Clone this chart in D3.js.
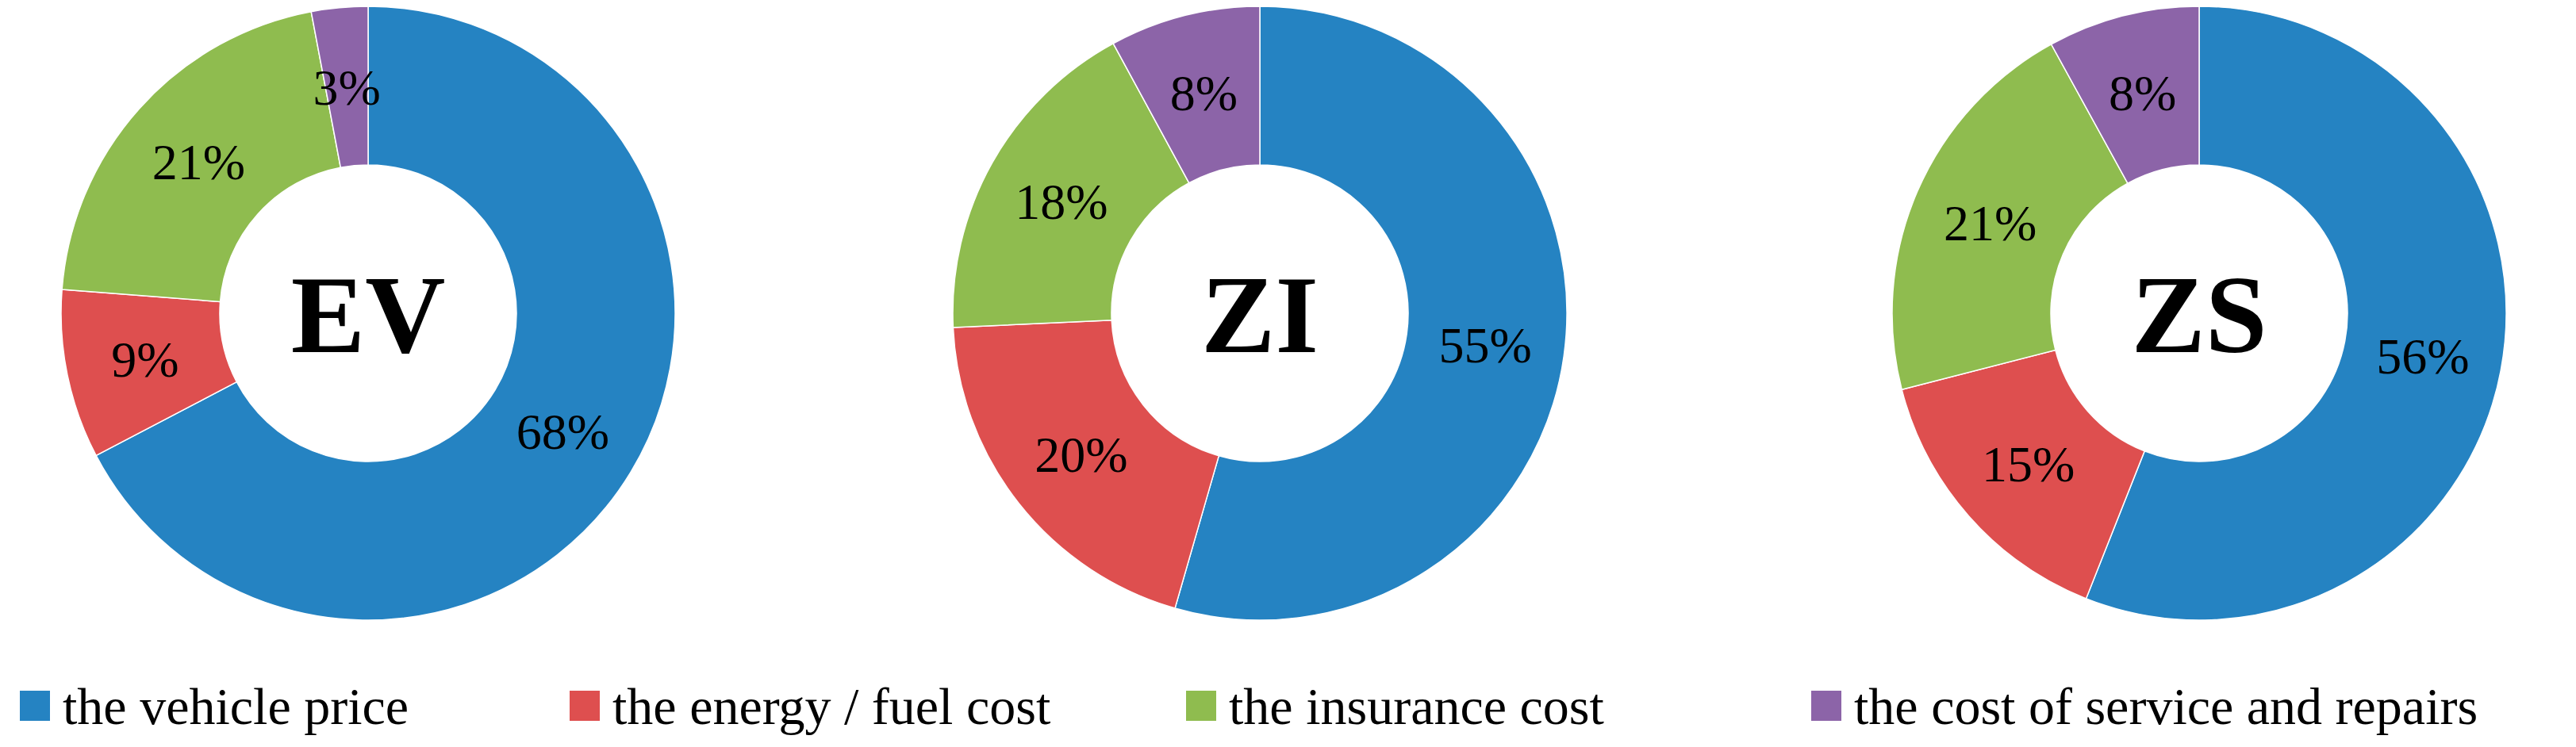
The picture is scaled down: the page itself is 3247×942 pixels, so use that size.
<!DOCTYPE html>
<html><head><meta charset="utf-8">
<script src="https://cdn.jsdelivr.net/npm/d3@7"></script>
<style>body{margin:0;background:#fff}</style>
</head><body><div id="chart"></div>
<script>
const charts = ["EV", "ZI", "ZS"];
const categories = ["the vehicle price", "the energy / fuel cost", "the insurance cost", "the cost of service and repairs"];
const evValues = [68, 9, 21, 3];
const ziValues = [55, 20, 18, 8];
const zsValues = [56, 15, 21, 8];
const allValues = [evValues, ziValues, zsValues];
const colors = ["#2583c2", "#de4f4f", "#8fbc4f", "#8c64a8"];

const W = 3247, H = 942;
const svg = d3.select('#chart').append('svg').attr('width', W).attr('height', H);
const font = "'Liberation Serif', 'DejaVu Serif', serif";

const cx = d3.scaleOrdinal().domain(charts).range([464, 1588, 2772]);
const color = d3.scaleOrdinal().domain(categories).range(colors);
const R = 387, r = 187;
const pie = d3.pie().sort(null).value(d => d.v);
const arc = d3.arc().innerRadius(r).outerRadius(R);

charts.forEach((name, i) => {
    const data = categories.map((c, j) => ({c, v: allValues[i][j]}));
    const g = svg.append("g").attr("transform", `translate(${cx(name)}, 395)`);
    const arcs = pie(data);
    g.selectAll("path").data(arcs).enter().append("path")
        .attr("d", arc)
        .attr("fill", d => color(d.data.c))
        .attr("stroke", "#fff").attr("stroke-width", 1.5);
    g.selectAll("text.lbl").data(arcs).enter().append("text")
        .attr("class", "lbl")
        .attr("transform", d => `translate(${arc.centroid(d)})`)
        .attr("text-anchor", "middle").attr("dy", "0.35em")
        .style("font-family", font).style("font-size", "64px")
        .text(d => d.data.v + "%");
    g.append("text")
        .attr("text-anchor", "middle").attr("dy", "0.35em")
        .style("font-family", font).style("font-size", "140px").style("font-weight", "bold")
        .text(name);
});

// legend
const lx = [25, 718, 1495, 2283];
const leg = svg.selectAll(".leg").data(categories).enter().append("g")
    .attr("transform", (d, i) => `translate(${lx[i]}, 890)`);
leg.append("rect").attr("x", 0).attr("y", -19).attr("width", 38).attr("height", 38)
    .attr("fill", d => color(d));
leg.append("text").attr("x", 54).attr("dy", "0.35em")
    .style("font-family", font).style("font-size", "66px")
    .text(d => d);
</script></body></html>
